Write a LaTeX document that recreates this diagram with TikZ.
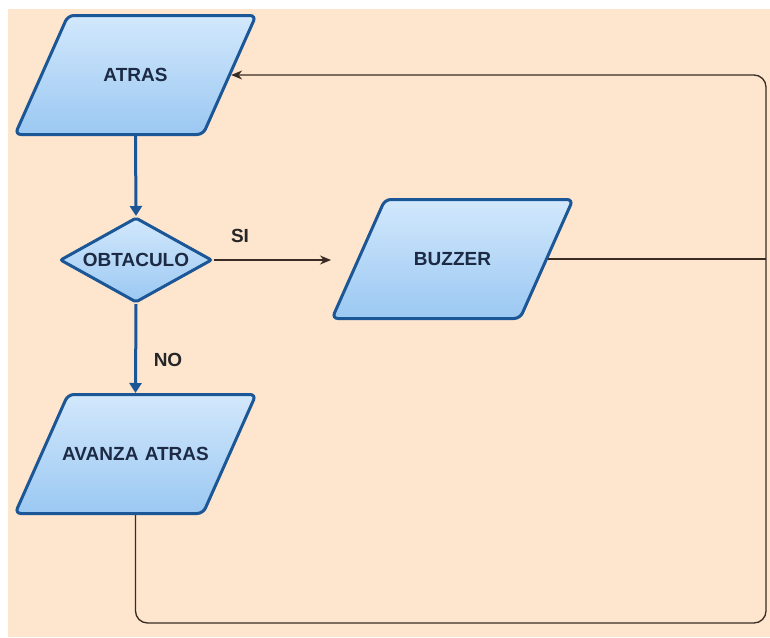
\documentclass[tikz,border=0pt]{standalone}
\usepackage{fontspec}
\setmainfont{Liberation Sans}
\usetikzlibrary{shapes.geometric,arrows.meta}
\definecolor{bg}{HTML}{FDE5CE}
\definecolor{boxtop}{HTML}{D2E8FC}
\definecolor{boxbot}{HTML}{9BC8F2}
\definecolor{boxline}{HTML}{1B5796}
\definecolor{ink}{HTML}{1C2A44}
\definecolor{wire}{HTML}{3A2C22}
\tikzset{
  labelfont/.style={font=\bfseries\fontsize{19}{21}\selectfont},
  % parallelogram: 119pt tall, 241pt wide overall, sides at 66 degrees
  io/.style={trapezium, trapezium left angle=66, trapezium right angle=114,
    text width=155pt, align=center, inner xsep=-10pt,
    text height=13pt, text depth=0pt, inner ysep=53pt,
    draw=boxline, line width=3pt, rounded corners=6pt,
    top color=boxtop, bottom color=boxbot, text=ink, labelfont},
  decision/.style={diamond, aspect=1.8, minimum width=152pt, minimum height=85pt,
    inner sep=0pt, draw=boxline, line width=3pt, rounded corners=2pt,
    top color=boxtop, bottom color=boxbot, text=ink, labelfont},
  thinflow/.style={draw=wire, line width=1.3pt, -{Stealth[length=11pt,width=9pt]}},
  plainwire/.style={draw=wire, line width=1.3pt},
  blueflow/.style={draw=boxline, line width=3pt, -{Triangle[length=10pt,width=12pt]}},
  branch/.style={text=black!85, labelfont}
}
\begin{document}
\begin{tikzpicture}[x=1pt, y=-1pt]
  \useasboundingbox (0,0) rectangle (770,637);
  \fill[white] (0,0) rectangle (770,637);
  \fill[bg] (8,9) rectangle (770,637);

  \node[io] (atras) at (135.5,75) {ATRAS};
  \node[decision] (obst) at (136,260) {OBTACULO};
  \node[io] (buzz) at (452.5,259) {BUZZER};
  \node[io] (avanza) at (135.5,454) {AVANZA ATRAS};

  \coordinate (loopcorner) at (766,623);
  \coordinate (siend) at (331,260);

  \draw[blueflow] (atras.south) -- (obst.north);
  \draw[blueflow] (obst.south) -- (avanza.north);
  \draw[thinflow] (obst.east) -- (siend);
  \draw[plainwire] (buzz.east) -- (buzz.east -| loopcorner);
  \draw[thinflow, rounded corners=12pt] (avanza.south) |- (loopcorner) |- (atras.east);

  \node[branch] (si) at (240,236) {SI};
  \node[branch] (no) at (168,360) {NO};
\end{tikzpicture}
\end{document}
